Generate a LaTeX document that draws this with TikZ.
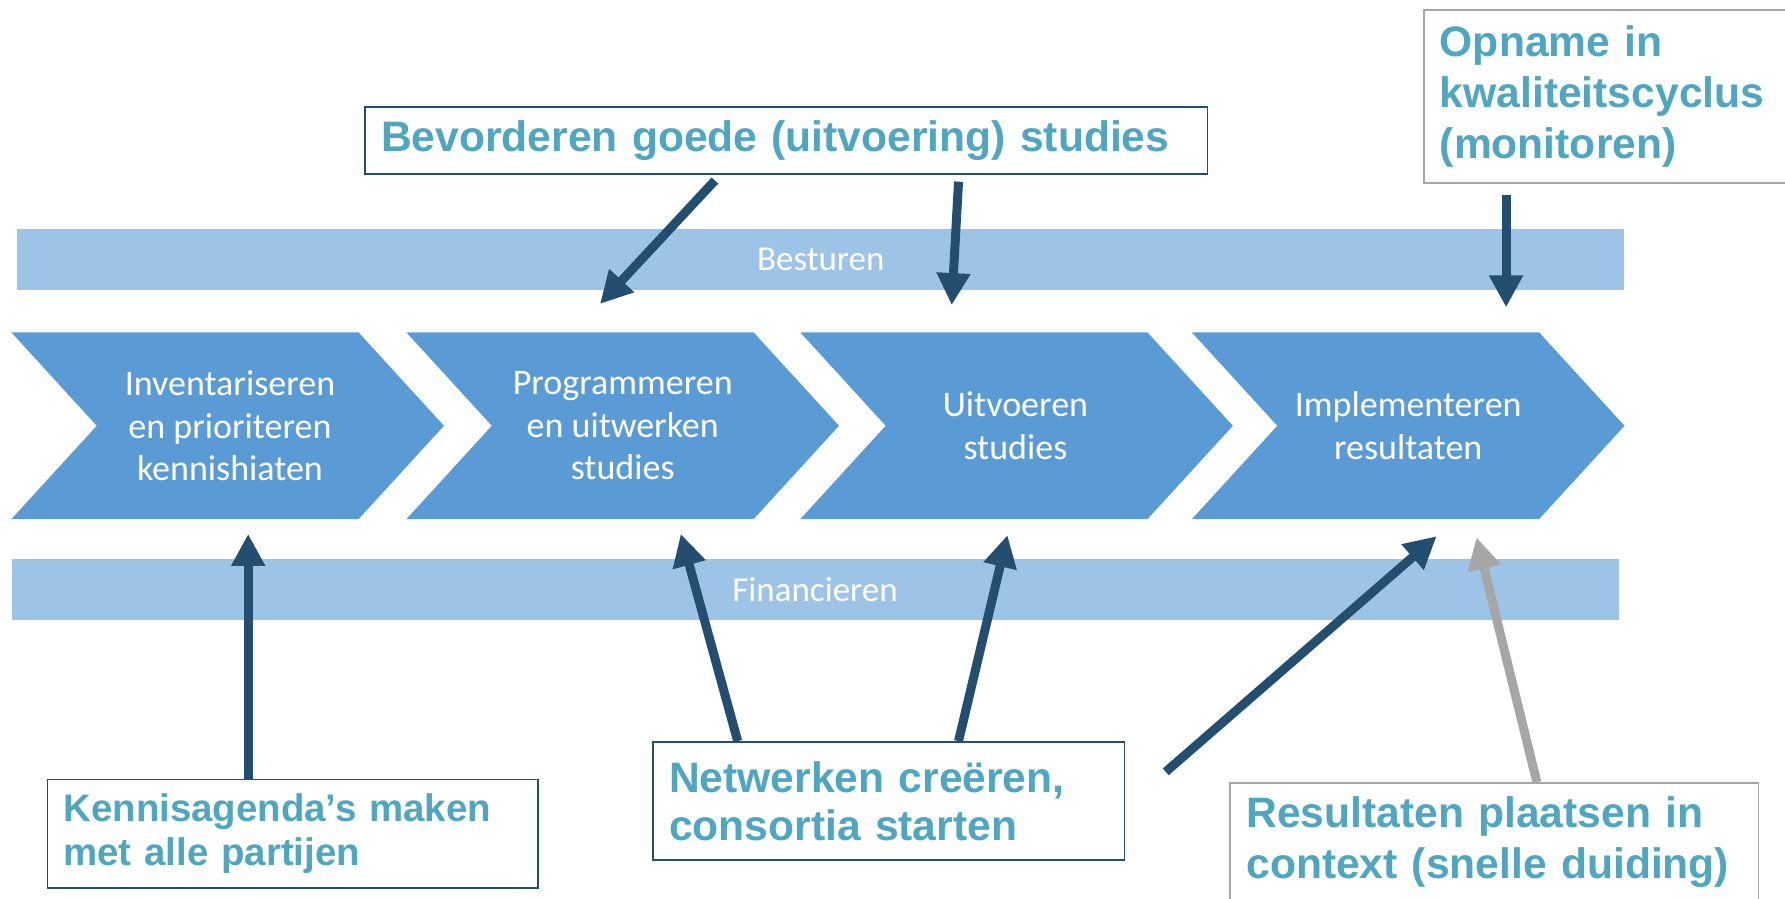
\documentclass[tikz,border=0pt]{standalone}
\usepackage{fontspec}
\setmainfont{Carlito}
\newfontfamily\boxfont{Liberation Sans}
\usetikzlibrary{arrows.meta, calc}
\definecolor{chevblue}{HTML}{5B9BD5}
\definecolor{bandblue}{HTML}{9DC3E6}
\definecolor{tealtext}{HTML}{4EA6C0}
\definecolor{navy}{HTML}{244E70}
\definecolor{greyline}{HTML}{A6A6A6}
\tikzset{
    chev/.style={fill=chevblue, draw=none},
    chevtext/.style={
        text=white, align=center, inner sep=0pt,
        font=\fontsize{18}{21.4}\selectfont
    },
    band/.style={
        fill=bandblue, inner sep=0pt,
        minimum width=28.24cm, minimum height=1.08cm,
        text=white, font=\fontsize{17.5}{21}\selectfont
    },
    tbox/.style={
        draw=navy, line width=0.9pt, fill=white,
        anchor=north west, align=left,
        inner xsep=0.28cm, inner ysep=0pt,
        text=tealtext, font=\boxfont\bfseries\fontsize{21.3}{25.6}\selectfont
    },
    tbox-grey/.style={tbox, draw=greyline},
    pijl/.style={
        -{Triangle[length=16pt, width=16pt]},
        line width=4.5pt, draw=navy
    },
    pijl-grey/.style={pijl, draw=greyline},
}
\begin{document}
\begin{tikzpicture}[x=0.02cm, y=-0.02cm]
\useasboundingbox (0,0) rectangle (1568,789);

% ---- Bands ----
\node[band] (besturen) at (721,228) {Besturen};
\node[band] (financieren) at (716,518) {Financieren};

% ---- Chevrons ----
\foreach \x in {10, 357, 703, 1047} {
    \fill[chev] (\x,292) -- ++(305,0) -- ++(75,82) -- ++(-75,82)
        -- ++(-305,0) -- ++(75,-82) -- cycle;
}
\node[chevtext] (inv)  at (202,374) {Inventariseren\\en prioriteren\\kennishiaten};
\node[chevtext] (prog) at (547,374) {Programmeren\\en uitwerken\\studies};
\node[chevtext] (uitv) at (892,374) {Uitvoeren\\studies};
\node[chevtext] (impl) at (1237,374) {Implementeren\\resultaten};

% ---- Text boxes ----
\node[tbox, text width=14.24cm, minimum height=1.18cm]
    (bevord) at (320,93) {Bevorderen goede (uitvoering) studies};
\node[tbox-grey, text width=6.04cm, minimum height=3.04cm]
    (opname) at (1250,8) {Opname in\\kwaliteitscyclus\\(monitoren)};
\node[tbox, text width=8.06cm, minimum height=1.9cm,
    font=\boxfont\bfseries\fontsize{19.2}{21.6}\selectfont]
    (kennis) at (41,684) {Kennisagenda’s maken\\met alle partijen};
\node[tbox, text width=7.72cm, minimum height=2.08cm,
    font=\boxfont\bfseries\fontsize{21.3}{24}\selectfont]
    (netw) at (573,651) {Netwerken creëren,\\consortia starten};
\node[tbox-grey, text width=8.72cm, minimum height=2.08cm]
    (result) at (1080,687) {Resultaten plaatsen in\\context (snelle duiding)};

% ---- Arrow ends ----
\coordinate (tip-prog-top) at (527,267);
\coordinate (tip-uitv-top) at (836,268);
\coordinate (tip-impl-top) at (1323,270);
\coordinate (tip-inv)  at (218,469);
\coordinate (tip-prog) at (598,469);
\coordinate (tip-uitv) at (885,470);
\coordinate (tip-impl) at (1262,471);
\coordinate (tip-impl-grey) at (1297,472);
\coordinate (vrij) at (1024,678);

% ---- Arrows ----
\draw[pijl] ($(bevord.south west)+(308,5)$) -- (tip-prog-top);
\draw[pijl] ($(bevord.south west)+(522,6)$) -- (tip-uitv-top);
\draw[pijl] ($(opname.south west)+(73,10)$) -- (tip-impl-top);
\draw[pijl] (kennis.north -| tip-inv) -- (tip-inv);
\draw[pijl] ($(netw.north west)+(75,0)$) -- (tip-prog);
\draw[pijl] ($(netw.north west)+(269,0)$) -- (tip-uitv);
\draw[pijl] (vrij) -- (tip-impl);
\draw[pijl-grey] ($(result.north west)+(270,0)$) -- (tip-impl-grey);

\end{tikzpicture}
\end{document}
